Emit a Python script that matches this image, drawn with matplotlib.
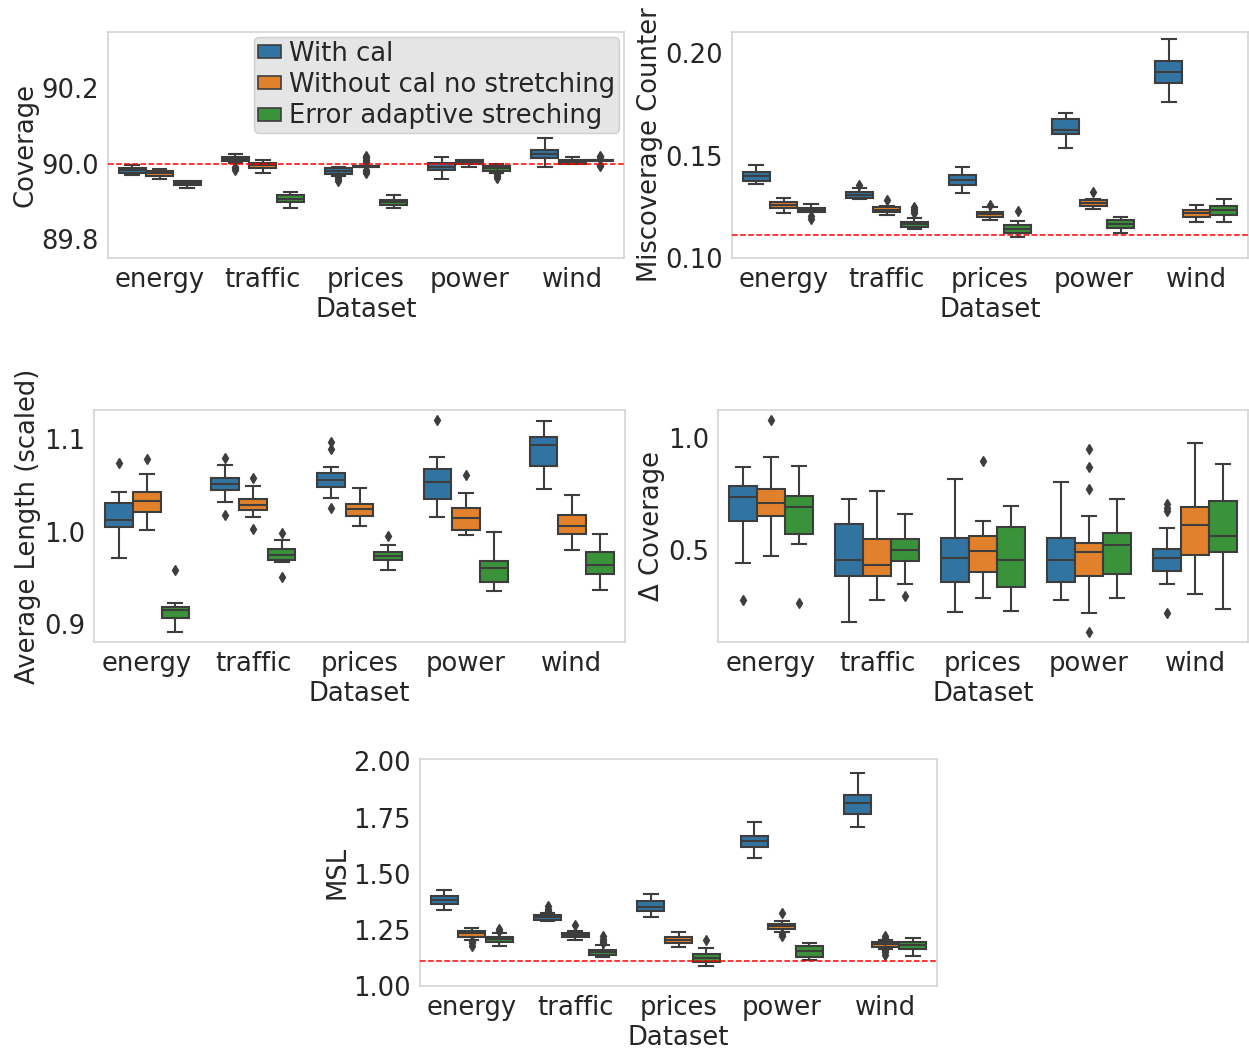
import matplotlib
matplotlib.use("Agg")
import matplotlib.pyplot as plt
from matplotlib.patches import Patch

DATASETS = ["energy", "traffic", "prices", "power", "wind"]
METHODS = ["With cal", "Without cal no stretching", "Error adaptive streching"]
COLORS = ["#3274a1", "#e1812c", "#3a923a"]

# ---- Coverage (rows: methods, cols: datasets) ----
COV_LO = [[89.970, 90.002, 89.969, 89.959, 89.993],
          [89.961, 89.975, 89.993, 89.993, 89.999],
          [89.936, 89.884, 89.884, 89.977, 90.008]]
COV_Q1 = [[89.977, 90.007, 89.974, 89.983, 90.015],
          [89.969, 89.989, 89.993, 90.000, 89.999],
          [89.944, 89.900, 89.891, 89.982, 90.008]]
COV_MED = [[89.983, 90.013, 89.981, 89.993, 90.027],
           [89.975, 89.996, 89.993, 90.005, 90.004],
           [89.949, 89.908, 89.898, 89.989, 90.009]]
COV_Q3 = [[89.989, 90.019, 89.988, 90.002, 90.037],
          [89.981, 90.002, 89.994, 90.010, 90.009],
          [89.954, 89.918, 89.904, 89.995, 90.010]]
COV_HI = [[89.996, 90.026, 89.993, 90.018, 90.068],
          [89.987, 90.009, 89.994, 90.010, 90.018],
          [89.955, 89.926, 89.918, 90.000, 90.010]]
COV_FL = [[[], [89.993, 89.988, 89.983], [89.965, 89.960, 89.955], [], []],
          [[], [], [90.022, 90.016, 90.010, 90.005, 89.985, 89.980, 89.975], [], []],
          [[], [], [], [89.973, 89.968, 89.963], [90.022, 90.017, 89.998, 89.995]]]

# ---- Miscoverage counter ----
MIS_LO = [[0.1360, 0.1287, 0.1315, 0.1537, 0.1763],
          [0.1218, 0.1210, 0.1185, 0.1239, 0.1174],
          [0.1223, 0.1142, 0.1103, 0.1123, 0.1177]]
MIS_Q1 = [[0.1374, 0.1295, 0.1356, 0.1606, 0.1855],
          [0.1242, 0.1223, 0.1202, 0.1255, 0.1202],
          [0.1223, 0.1152, 0.1124, 0.1145, 0.1210]]
MIS_MED = [[0.1398, 0.1308, 0.1381, 0.1624, 0.1906],
           [0.1258, 0.1235, 0.1215, 0.1268, 0.1218],
           [0.1235, 0.1165, 0.1142, 0.1166, 0.1232]]
MIS_Q3 = [[0.1419, 0.1321, 0.1406, 0.1677, 0.1963],
          [0.1274, 0.1247, 0.1226, 0.1281, 0.1234],
          [0.1245, 0.1177, 0.1161, 0.1187, 0.1253]]
MIS_HI = [[0.1455, 0.1342, 0.1444, 0.1710, 0.2068],
          [0.1294, 0.1255, 0.1248, 0.1290, 0.1261],
          [0.1265, 0.1194, 0.1181, 0.1198, 0.1289]]
MIS_FL = [[[], [0.1358], [], [], []],
          [[], [0.1282], [0.1260], [0.1323], []],
          [[0.1206, 0.1190], [0.1250, 0.1240, 0.1228, 0.1218], [0.1229], [], []]]

# ---- Average length (scaled) ----
LEN_LO = [[0.972, 1.0327, 1.0367, 1.0158, 1.046],
          [1.0025, 1.0158, 1.0065, 0.9964, 0.9799],
          [0.892, 0.9673, 0.9586, 0.936, 0.937]]
LEN_Q1 = [[1.0047, 1.0457, 1.0486, 1.036, 1.0709],
          [1.0212, 1.0234, 1.0176, 1.0018, 0.9975],
          [0.9065, 0.9701, 0.9694, 0.9453, 0.954]]
LEN_MED = [[1.0126, 1.0518, 1.0561, 1.0543, 1.0935],
           [1.0338, 1.0288, 1.0248, 1.0147, 1.0068],
           [0.9155, 0.9755, 0.9737, 0.9608, 0.9644]]
LEN_Q3 = [[1.0313, 1.0586, 1.064, 1.0683, 1.1022],
          [1.0435, 1.0353, 1.0306, 1.0259, 1.0187],
          [0.9183, 0.9817, 0.9784, 0.9687, 0.9784]]
LEN_HI = [[1.0428, 1.0719, 1.0698, 1.081, 1.1194],
          [1.0622, 1.0493, 1.0471, 1.0421, 1.0396],
          [0.9227, 0.991, 0.9856, 0.9996, 0.9975]]
LEN_FL = [[[1.0745], [1.0802, 1.0187], [1.0971, 1.0899, 1.0255], [1.1205], []],
          [[1.0784], [1.058, 1.003], [], [1.0615], []],
          [[0.9586], [0.9989, 0.9514], [0.9953], [], []]]

# ---- Delta coverage ----
DC_LO = [[0.442, 0.181, 0.223, 0.279, 0.347],
         [0.472, 0.277, 0.288, 0.218, 0.306],
         [0.528, 0.349, 0.230, 0.288, 0.236]]
DC_Q1 = [[0.628, 0.386, 0.358, 0.358, 0.409],
         [0.651, 0.386, 0.402, 0.384, 0.479],
         [0.570, 0.453, 0.335, 0.393, 0.491]]
DC_MED = [[0.736, 0.455, 0.464, 0.457, 0.466],
          [0.709, 0.432, 0.496, 0.493, 0.610],
          [0.693, 0.500, 0.454, 0.521, 0.562]]
DC_Q3 = [[0.788, 0.616, 0.555, 0.555, 0.506],
         [0.773, 0.549, 0.561, 0.531, 0.691],
         [0.740, 0.550, 0.604, 0.577, 0.717]]
DC_HI = [[0.871, 0.730, 0.819, 0.803, 0.598],
         [0.915, 0.764, 0.631, 0.651, 0.979],
         [0.874, 0.663, 0.696, 0.726, 0.886]]
DC_FL = [[[0.280], [], [], [], [0.705, 0.690, 0.675, 0.221]],
         [[1.079], [], [0.896], [0.953, 0.871, 0.772, 0.136], []],
         [[0.263], [0.295], [], [], []]]

# ---- MSL ----
MSL_LO = [[1.338, 1.289, 1.307, 1.570, 1.707],
          [1.207, 1.204, 1.173, 1.241, 1.166],
          [1.178, 1.130, 1.089, 1.116, 1.133]]
MSL_Q1 = [[1.364, 1.296, 1.332, 1.618, 1.767],
          [1.219, 1.216, 1.190, 1.255, 1.175],
          [1.198, 1.139, 1.105, 1.129, 1.163]]
MSL_MED = [[1.382, 1.305, 1.353, 1.647, 1.815],
           [1.234, 1.227, 1.203, 1.265, 1.185],
           [1.209, 1.150, 1.126, 1.154, 1.181]]
MSL_Q3 = [[1.3985, 1.314, 1.379, 1.670, 1.850],
          [1.243, 1.237, 1.216, 1.276, 1.196],
          [1.219, 1.160, 1.142, 1.176, 1.196]]
MSL_HI = [[1.428, 1.323, 1.409, 1.729, 1.948],
          [1.258, 1.244, 1.241, 1.289, 1.207],
          [1.234, 1.182, 1.170, 1.190, 1.212]]
MSL_FL = [[[], [1.356, 1.345, 1.335, 1.328], [], [], []],
          [[1.200, 1.190, 1.180], [1.271], [], [1.326, 1.230, 1.222], [1.222, 1.215, 1.160, 1.150, 1.140]],
          [[1.255, 1.245], [1.222, 1.210, 1.200, 1.190], [1.204], [], []]]

REF_COV = 90.0
REF_MIS = 1 / 9
REF_MSL = 10 / 9

GRAY = "#3d3d3d"
TXT = "#262626"
FS = 18.6

plt.rcParams["font.family"] = ["DejaVu Sans"]
fig = plt.figure(figsize=(12.49, 10.48), dpi=100)
W, H = 1249, 1048


def add_ax(l, t, r, b):
    return fig.add_axes([l / W, 1 - b / H, (r - l) / W, (b - t) / H])


def draw(ax, lo, q1, med, q3, hi, fl, ylabel, ylim, yticks, yfmt, ref=None):
    width = 0.8 / 3
    for m in range(3):
        stats = []
        pos = []
        for d in range(5):
            stats.append(dict(whislo=lo[m][d], q1=q1[m][d], med=med[m][d],
                              q3=q3[m][d], whishi=hi[m][d], fliers=fl[m][d]))
            pos.append(d + (m - 1) * width)
        ax.bxp(stats, positions=pos, widths=width * 0.98, patch_artist=True,
               showfliers=True, manage_ticks=False,
               boxprops=dict(facecolor=COLORS[m], edgecolor=GRAY, linewidth=1.5),
               medianprops=dict(color=GRAY, linewidth=1.5),
               whiskerprops=dict(color=GRAY, linewidth=1.5),
               capprops=dict(color=GRAY, linewidth=1.5),
               flierprops=dict(marker="d", markersize=5, markerfacecolor=GRAY,
                               markeredgecolor=GRAY, linestyle="none"))
    if ref is not None:
        ax.axhline(ref, color="red", linestyle="--", linewidth=1.1, zorder=5)
    ax.set_xlim(-0.5, 4.5)
    ax.set_ylim(*ylim)
    ax.set_xticks(range(5))
    ax.set_xticklabels(DATASETS)
    ax.set_yticks(yticks)
    ax.set_yticklabels([yfmt.format(v) for v in yticks])
    ax.tick_params(axis="both", length=0, labelsize=FS, colors=TXT, pad=6.5)
    ax.set_xlabel("Dataset", fontsize=FS, color=TXT, labelpad=3)
    ax.set_ylabel(ylabel, fontsize=FS, color=TXT, labelpad=2)
    for s in ax.spines.values():
        s.set_color("#d4d4d4")
        s.set_linewidth(1.2)
    ax.grid(False)


ax1 = add_ax(108, 32, 624, 258)
draw(ax1, COV_LO, COV_Q1, COV_MED, COV_Q3, COV_HI, COV_FL, "Coverage",
     (89.751, 90.349), [89.8, 90.0, 90.2], "{:.1f}", REF_COV)
handles = [Patch(facecolor=COLORS[i], edgecolor=GRAY, linewidth=1.2, label=METHODS[i]) for i in range(3)]
leg = ax1.legend(handles=handles, loc="upper right", fontsize=FS, frameon=True,
                 facecolor="#e5e5e5", edgecolor="#d0d0d0", framealpha=1.0,
                 handlelength=0.9, handleheight=0.4, handletextpad=0.3,
                 labelspacing=0.2, borderpad=0.15, borderaxespad=0.2)
for t in leg.get_texts():
    t.set_color(TXT)

ax2 = add_ax(732, 32, 1248, 258)
draw(ax2, MIS_LO, MIS_Q1, MIS_MED, MIS_Q3, MIS_HI, MIS_FL, "Miscoverage Counter",
     (0.1008, 0.2103), [0.10, 0.15, 0.20], "{:.2f}", REF_MIS)

ax3 = add_ax(94, 410, 625, 642)
draw(ax3, LEN_LO, LEN_Q1, LEN_MED, LEN_Q3, LEN_HI, LEN_FL, "Average Length (scaled)",
     (0.881, 1.1316), [0.9, 1.0, 1.1], "{:.1f}")

ax4 = add_ax(718, 410, 1248, 642)
draw(ax4, DC_LO, DC_Q1, DC_MED, DC_Q3, DC_HI, DC_FL, "Δ Coverage",
     (0.0906, 1.1246), [0.5, 1.0], "{:.1f}")

ax5 = add_ax(420, 759, 937, 986)
draw(ax5, MSL_LO, MSL_Q1, MSL_MED, MSL_Q3, MSL_HI, MSL_FL, "MSL",
     (1.0044, 2.0107), [1.00, 1.25, 1.50, 1.75, 2.00], "{:.2f}", REF_MSL)

fig.savefig("out.png", dpi=100)
